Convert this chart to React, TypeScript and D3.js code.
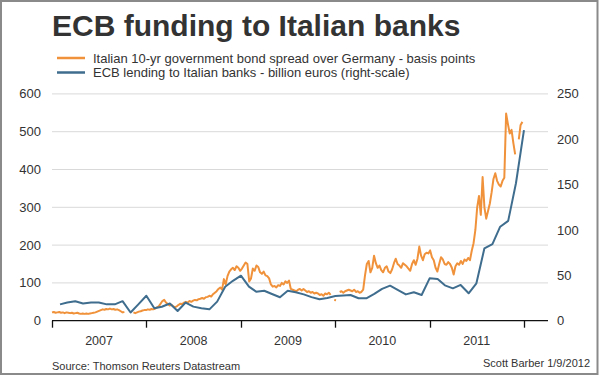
import React from "react";
import * as d3 from "d3";

const TITLE = "ECB funding to Italian banks";
const LEGEND_SPREAD = "Italian 10-yr government bond spread over Germany - basis points";
const LEGEND_ECB = "ECB lending to Italian banks - billion euros (right-scale)";
const SOURCE = "Source: Thomson Reuters Datastream";
const CREDIT = "Scott Barber 1/9/2012";

const yearLabels = [2007, 2008, 2009, 2010, 2011];
const yearTicks = [2007, 2008, 2009, 2010, 2011, 2012];
const leftTicks = [0, 100, 200, 300, 400, 500, 600];
const rightTicks = [0, 50, 100, 150, 200, 250];

// Italian 10-yr spread over Germany (bp), weekly from first week of 2007 (null = gap)
const spread2007 = [22, 23, 21, 22, 23, 21, 22, 20, 22, 21, 20, 21, 19, 20, 21, 19, 18, 19, 18, 19, 18, 19, 20, 21, 22, 24, 26, 28, 30, 29, 31, 30, 32, 30, 31, 29, 30, 28, 25, 22, 23, null, null, null, null, 22, 20, 22, 24, 25, 27, 28];
const spread2008 = [28, 30, 29, 31, 30, 32, 35, 38, 45, 52, 55, 48, 44, 40, 42, 38, 36, 38, 42, 45, 44, 48, 50, 48, 52, 50, 53, 55, 54, 57, 58, 60, 58, 62, 63, 66, 64, 70, 74, 78, 84, 88, 82, 110, 96, 118, 130, 136, 140, 134, 144, 140];
const spread2009 = [132, 138, 146, 154, 150, 104, 112, 138, 132, 146, 142, 128, 124, 130, 120, 118, 112, 96, 90, 92, 88, 94, 92, 100, 96, 104, 100, 106, 84, 82, 80, 78, 82, 84, 80, 84, 80, 76, 78, 74, 76, 72, 74, 72, 68, 70, 66, 72, 70, 74, 68, null];
const spread2010 = [55, 54, null, 76, 78, 74, 78, 80, 82, 80, 78, 82, 76, 78, 74, 76, 82, 120, 150, 158, 128, 140, 172, 152, 140, 146, 134, 128, 140, 144, 130, 126, 136, 152, 164, 150, 146, 140, 152, 148, 144, 138, 132, 150, 160, 148, 164, 196, 172, 160, 176, 180];
const spread2011 = [178, 186, 168, 160, 140, 130, 150, 168, 162, 150, 148, 155, 150, 140, 122, 144, 152, 148, 158, 150, 162, 158, 166, 160, 185, 205, 240, 300, 330, 280, 380, 300, 270, 290, 310, 340, 375, 390, 370, 360, 355, 370, 378, 548, 520, 495, 505, 470, 440, null, 480, 518, 526];

// ECB lending to Italian banks (bn euros), monthly from Feb 2007
const ecb2007 = [18, 20, 21.5, 19, 20, 20, 18, 18, 21.5, 9, 18];
const ecb2008 = [27.5, 13.7, 15.4, 19, 10.7, 20, 15.5, 13.7, 12.5, 21, 37.5, 44];
const ecb2009 = [49.6, 37.5, 32, 33, 29.4, 25.8, 33, 31.3, 29, 26, 23.6, 25];
const ecb2010 = [27.2, 27.8, 28.3, 24.7, 24.7, 29.5, 35, 38.6, 33.8, 29, 31.3, 28.3];
const ecb2011 = [46.7, 46, 39, 35.7, 39.4, 30.2, 41.2, 79.8, 84.5, 103.6, 110, 151.5];
const ecb2012 = [210];

const ORANGE = "#f0923b";
const BLUE = "#3f6d8e";
const FONT = "'Liberation Sans', Arial, Helvetica, sans-serif";

type Pt = { d: Date; v: number | null };

export default function App() {
  const W = 600;
  const H = 376;

  const spreadVals = [...spread2007, ...spread2008, ...spread2009, ...spread2010, ...spread2011];
  const spread: Pt[] = spreadVals.map((v, i) => ({ d: new Date(2007, 0, 1 + 7 * i), v }));
  const ecbVals = [...ecb2007, ...ecb2008, ...ecb2009, ...ecb2010, ...ecb2011, ...ecb2012];
  const ecb: Pt[] = ecbVals.map((v, i) => ({ d: new Date(2007, 1 + i, 1), v }));

  const x = d3.scaleTime().domain([new Date(2007, 0, 1), new Date(2012, 3, 3)]).range([52, 548]);
  const yL = d3.scaleLinear().domain([0, 600]).range([320.7, 93.9]);
  const yR = d3.scaleLinear().domain([0, 250]).range([320.7, 93.9]);

  const lineL = d3
    .line<Pt>()
    .defined((p) => p.v != null)
    .x((p) => x(p.d))
    .y((p) => yL(p.v as number));
  const lineR = d3
    .line<Pt>()
    .x((p) => x(p.d))
    .y((p) => yR(p.v as number));

  const [x0, x1] = x.range();

  return (
    <svg
      width={W}
      height={H}
      style={{ position: "absolute", left: 0, top: 0, display: "block", background: "#fff" }}
      fontFamily={FONT}
    >
      <rect x={0} y={0} width={W} height={H} fill="#fff" />
      <rect x={1} y={1} width={596.5} height={373} fill="none" stroke="#8a8a8a" strokeWidth={2} />

      <text x={52} y={36} fontSize={30} fontWeight="bold" fill="#333">
        {TITLE}
      </text>

      <line x1={57} x2={85} y1={58} y2={58} stroke={ORANGE} strokeWidth={2.5} />
      <text x={93} y={62.5} fontSize={13} fill="#333">
        {LEGEND_SPREAD}
      </text>
      <line x1={57} x2={85} y1={72.5} y2={72.5} stroke={BLUE} strokeWidth={2.5} />
      <text x={93} y={77} fontSize={13} fill="#333">
        {LEGEND_ECB}
      </text>

      {leftTicks.map((t) =>
        t > 0 ? (
          <line key={"g" + t} x1={x0} x2={x1} y1={yL(t)} y2={yL(t)} stroke="#d9d9d9" strokeWidth={1} />
        ) : null
      )}
      {leftTicks.map((t) => (
        <text key={"l" + t} x={41} y={yL(t)} dy="0.35em" textAnchor="end" fontSize={13} fill="#333">
          {t}
        </text>
      ))}
      {rightTicks.map((t) => (
        <text key={"r" + t} x={557} y={yR(t)} dy="0.35em" textAnchor="start" fontSize={13} fill="#333">
          {t}
        </text>
      ))}

      <path d={lineL(spread) || ""} fill="none" stroke={ORANGE} strokeWidth={2} strokeLinejoin="round" />
      <path d={lineR(ecb) || ""} fill="none" stroke={BLUE} strokeWidth={2} strokeLinejoin="round" />

      <line x1={x0} x2={x1} y1={yL(0)} y2={yL(0)} stroke="#111" strokeWidth={1.3} />
      {yearTicks.map((yv) => {
        const tx = Math.round(x(new Date(yv, 0, 1))) + 0.5;
        return <line key={"t" + yv} x1={tx} x2={tx} y1={yL(0)} y2={yL(0) + 7} stroke="#111" strokeWidth={1.3} />;
      })}
      {yearLabels.map((yv) => (
        <text key={"y" + yv} x={x(new Date(yv, 6, 2))} y={345} textAnchor="middle" fontSize={12.5} fill="#333">
          {yv}
        </text>
      ))}

      <text x={52} y={370} fontSize={11} fill="#333">
        {SOURCE}
      </text>
      <text x={590} y={367} textAnchor="end" fontSize={11} fill="#333">
        {CREDIT}
      </text>
    </svg>
  );
}
